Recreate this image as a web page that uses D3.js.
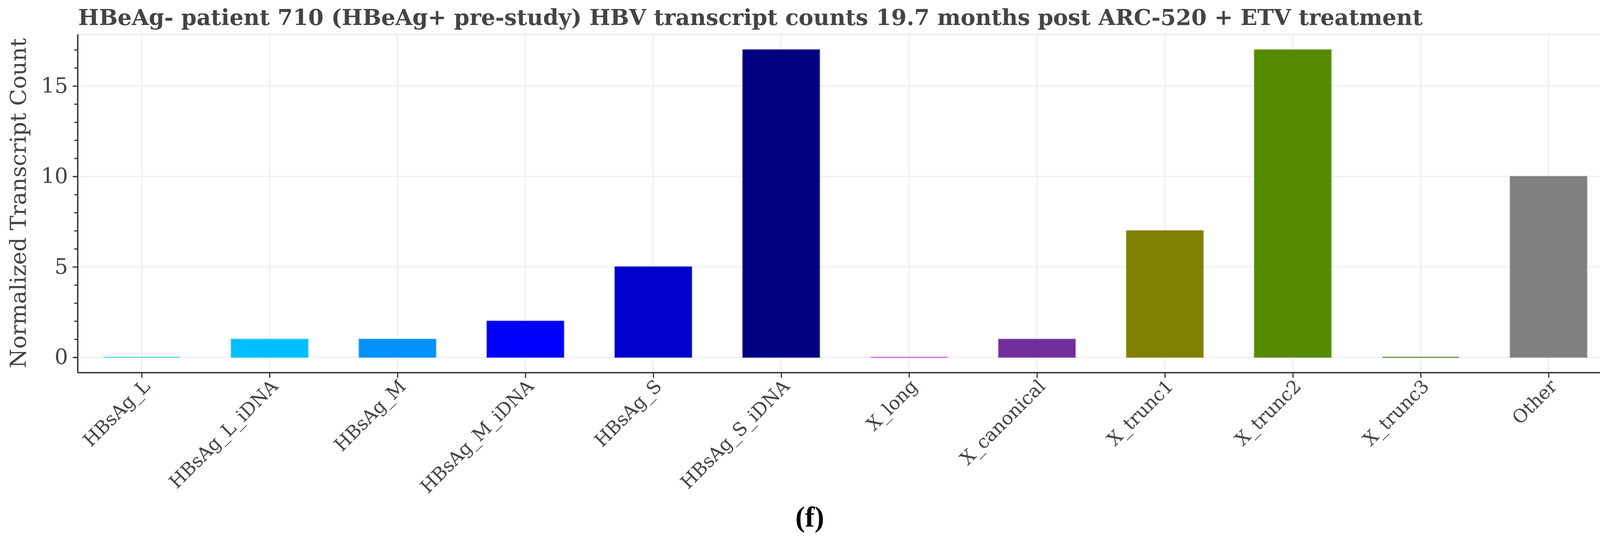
<!DOCTYPE html>
<html>
<head>
<meta charset="utf-8">
<script src="https://cdn.jsdelivr.net/npm/d3@7"></script>
<style>
  body { margin: 0; background: #fff; }
  svg { display: block; }
</style>
</head>
<body>
<svg id="chart" width="4168" height="1390"></svg>
<script>
// transcript categories and counts
const categories = ['HBsAg_L', 'HBsAg_L_iDNA', 'HBsAg_M', 'HBsAg_M_iDNA', 'HBsAg_S', 'HBsAg_S_iDNA',
  'X_long', 'X_canonical', 'X_trunc1', 'X_trunc2', 'X_trunc3', 'Other']
const counts = [0, 1, 1, 2, 5, 17, 0, 1, 7, 17, 0, 10]
const barColors = ['#66d3f0', '#00bfff', '#0091ff', '#0000ff', '#0000cd', '#000080',
  '#e066ee', '#722f9c', '#808000', '#558b00', '#6b8f4e', '#808080']
const yMajorTicks = [0, 5, 10, 15]
const yMinorTicks = d3.range(0, 18)

const titleText = 'HBeAg- patient 710 (HBeAg+ pre-study) HBV transcript counts 19.7 months post ARC-520 + ETV treatment'
const yLabel = 'Normalized Transcript Count'
const panelLabel = '(f)'

const margin = { left: 199, right: 40, top: 88, bottom: 436 }
const width = 4168 - margin.left - margin.right
const height = 1390 - margin.top - margin.bottom

const svg = d3.select('#chart')
const g = svg.append('g').attr('transform', `translate(${margin.left},${margin.top})`)

const x = d3.scalePoint().domain(categories).range([0, width]).padding(0.5)
const barWidth = x.step() * 0.6
const y = d3.scaleLinear().domain([-0.85, 17.85]).range([height, 0])

// grid
g.append('g').selectAll('line.vgrid')
  .data(categories)
  .enter().append('line')
  .attr('x1', d => x(d)).attr('x2', d => x(d))
  .attr('y1', 0).attr('y2', height)
  .attr('stroke', '#ebebeb').attr('stroke-width', 2.5)

g.append('g').selectAll('line.hgrid')
  .data(yMajorTicks)
  .enter().append('line')
  .attr('x1', 0).attr('x2', width)
  .attr('y1', d => y(d)).attr('y2', d => y(d))
  .attr('stroke', '#ebebeb').attr('stroke-width', 2.5)

// light frame on top and right
g.append('line').attr('x1', 0).attr('x2', width).attr('y1', 0).attr('y2', 0)
  .attr('stroke', '#ebebeb').attr('stroke-width', 3)
g.append('line').attr('x1', width).attr('x2', width).attr('y1', 0).attr('y2', height)
  .attr('stroke', '#ebebeb').attr('stroke-width', 3)

// bars (zero counts show as a thin line)
g.append('g').selectAll('rect')
  .data(categories)
  .enter().append('rect')
  .attr('x', (d, i) => x(d) - barWidth / 2)
  .attr('width', barWidth)
  .attr('y', (d, i) => counts[i] > 0 ? y(counts[i]) : y(0) - 1.5)
  .attr('height', (d, i) => counts[i] > 0 ? y(0) - y(counts[i]) : 3)
  .attr('fill', (d, i) => barColors[i])
  .attr('stroke', (d, i) => counts[i] > 0 ? barColors[i] : 'none')
  .attr('stroke-opacity', 0.55)
  .attr('stroke-width', 3)

// axes
const yAxis = g.append('g')
  .call(d3.axisLeft(y).tickValues(yMajorTicks).tickSize(13).tickPadding(12))
const yMinor = g.append('g')
  .call(d3.axisLeft(y).tickValues(yMinorTicks).tickSize(9).tickFormat(''))
yMinor.select('.domain').remove()

const xAxis = g.append('g')
  .attr('transform', `translate(0,${height})`)
  .call(d3.axisBottom(x).tickSize(13).tickPadding(10))

;[yAxis, yMinor, xAxis].forEach(a => {
  a.selectAll('.tick line').attr('stroke', '#333').attr('stroke-width', 3)
})
yAxis.select('.domain').attr('stroke', '#333').attr('stroke-width', 3.5)
  .attr('d', `M0,${y.range()[1]}V${y.range()[0]}`)
xAxis.select('.domain').attr('stroke', '#333').attr('stroke-width', 3.5)
  .attr('d', `M0,0H${width}`)

yAxis.selectAll('.tick text')
  .attr('font-family', 'DejaVu Serif')
  .attr('font-size', 54)
  .attr('fill', '#444')

xAxis.selectAll('.tick text')
  .attr('font-family', 'DejaVu Serif')
  .attr('font-size', 47)
  .attr('fill', '#444')
  .attr('text-anchor', 'end')
  .attr('dy', '0.35em')
  .attr('transform', 'translate(12,26) rotate(-45)')
  .attr('y', 0)
  .attr('x', 0)

// title
const title = svg.append('text')
  .attr('x', 200)
  .attr('y', 64)
  .attr('font-family', 'DejaVu Serif')
  .attr('font-weight', 'bold')
  .attr('font-size', 55)
  .attr('fill', '#444')
  .text(titleText)
const tw = title.node().getComputedTextLength()
title.attr('font-size', 55 * 3442 / tw)
  .attr('textLength', 3442)
  .attr('lengthAdjust', 'spacing')

// y label
const yl = svg.append('text')
  .attr('transform', 'translate(66,520) rotate(-90)')
  .attr('text-anchor', 'middle')
  .attr('font-family', 'DejaVu Serif')
  .attr('font-size', 52)
  .attr('fill', '#444')
  .text(yLabel)
const yw = yl.node().getComputedTextLength()
yl.attr('font-size', 52 * 845 / yw)

// panel letter
svg.append('text')
  .attr('x', 2073)
  .attr('y', 1348)
  .attr('text-anchor', 'middle')
  .attr('font-family', 'Liberation Serif')
  .attr('font-weight', 'bold')
  .attr('font-size', 74)
  .attr('fill', '#000')
  .text(panelLabel)
</script>
</body>
</html>
